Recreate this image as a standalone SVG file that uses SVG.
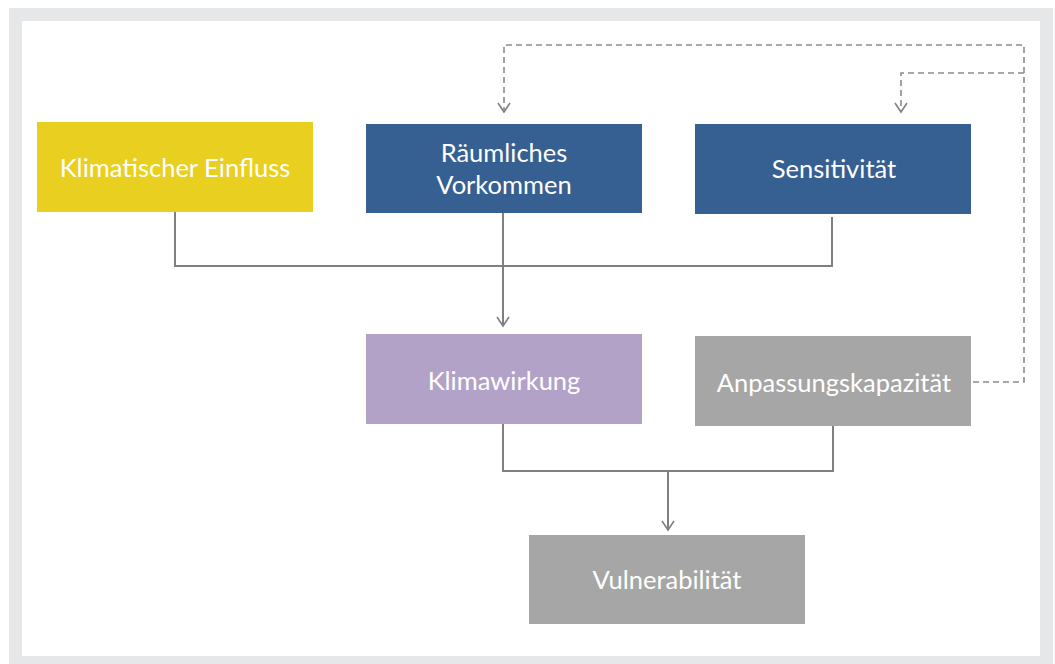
<svg xmlns="http://www.w3.org/2000/svg" width="1055" height="664" viewBox="0 0 1055 664">
<style>
.box{stroke:none}
.lbl{font-family:Lato,"Open Sans","Liberation Sans",sans-serif;font-size:25.5px;fill:#ffffff;text-anchor:middle}
.conn{fill:none;stroke:#808080;stroke-width:2}
.dash{fill:none;stroke:#8a8a8a;stroke-width:1.6;stroke-dasharray:6 4}
</style>
<defs>
<marker id="arr" markerWidth="12" markerHeight="14" refX="10" refY="7" orient="auto" markerUnits="userSpaceOnUse" viewBox="0 0 12 14">
<path d="M1,1 L10,7 L1,13" fill="none" stroke="#808080" stroke-width="1.6"/>
</marker>
</defs>
<rect x="0" y="0" width="1055" height="664" fill="#ffffff"/>
<rect x="15.5" y="14.5" width="1031" height="648" fill="none" stroke="#e6e7e8" stroke-width="13"/>
<g id="connectors">
<path class="conn" d="M175,212 V266 H832 V217"/>
<path class="conn" d="M503,213 V326" marker-end="url(#arr)"/>
<path class="conn" d="M503,424 V471 H833 V426"/>
<path class="conn" d="M668,471 V530" marker-end="url(#arr)"/>
<path class="dash" d="M973,382 H1024 V45 H504 V112" marker-end="url(#arr)"/>
<path class="dash" d="M1024,73 H901 V112" marker-end="url(#arr)"/>
</g>
<g id="klimatischer-einfluss">
<rect class="box" x="37" y="122" width="276" height="90" fill="#e9cf1f"/>
<text class="lbl" x="175" y="177">Klimatischer Einfluss</text>
</g>
<g id="raeumliches-vorkommen">
<rect class="box" x="366" y="124" width="276" height="89" fill="#376092"/>
<text class="lbl" x="504" y="162">Räumliches</text>
<text class="lbl" x="504" y="194">Vorkommen</text>
</g>
<g id="sensitivitaet">
<rect class="box" x="695" y="124" width="276" height="90" fill="#376092"/>
<text class="lbl" x="834" y="178">Sensitivität</text>
</g>
<g id="klimawirkung">
<rect class="box" x="366" y="334" width="276" height="90" fill="#b2a2c7"/>
<text class="lbl" x="504" y="390">Klimawirkung</text>
</g>
<g id="anpassungskapazitaet">
<rect class="box" x="695" y="336" width="276" height="90" fill="#a6a6a6"/>
<text class="lbl" x="834" y="392">Anpassungskapazität</text>
</g>
<g id="vulnerabilitaet">
<rect class="box" x="529" y="535" width="276" height="89" fill="#a6a6a6"/>
<text class="lbl" x="667" y="589">Vulnerabilität</text>
</g>
</svg>
